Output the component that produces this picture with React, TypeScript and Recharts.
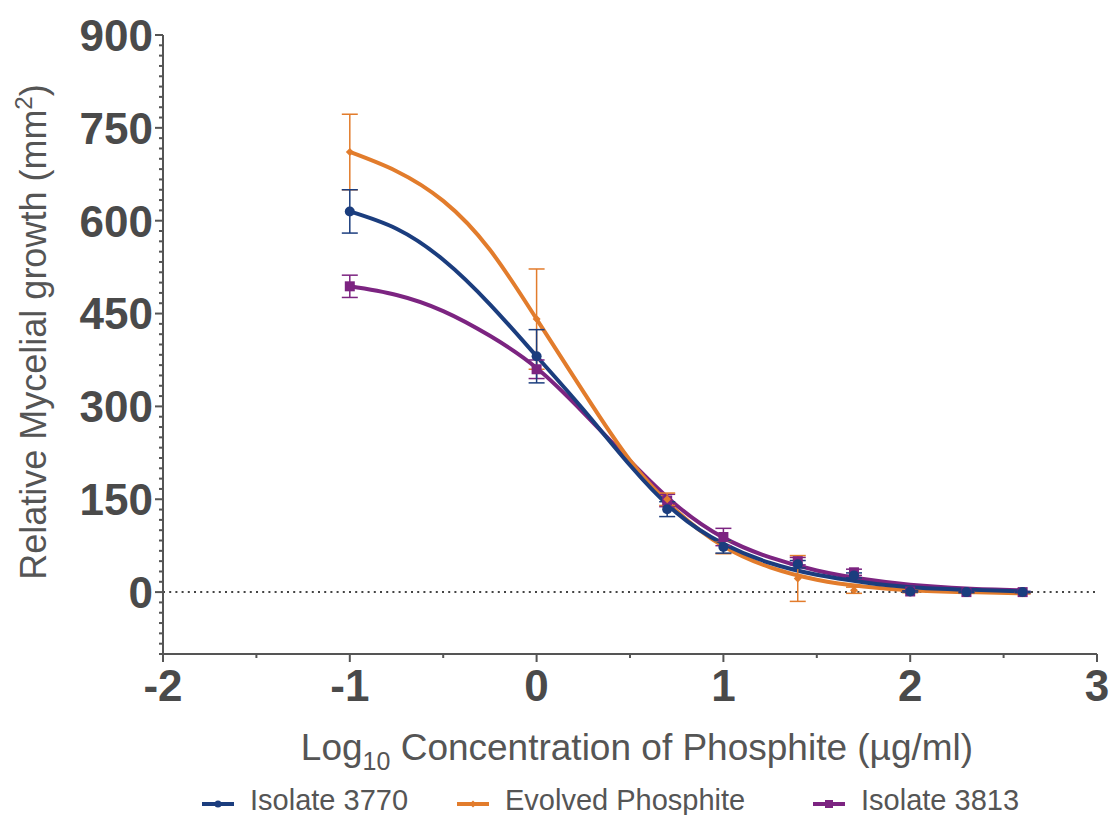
import React from 'react';
import {ComposedChart, Line, Scatter, ErrorBar, XAxis, YAxis, ReferenceLine} from 'recharts';

// measured points (log10 µg/ml)
const concLog = [-1, 0, 0.699, 1, 1.398, 1.699, 2, 2.301, 2.602];
const isolate3770Mean = [615, 381, 134, 73, 45, 27, 1, 0, 0];
const isolate3770Err = [35, 43, 12, 10, 6, 4, 1, 1, 1];
const evolvedMean = [711, 441, 150, 72, 22, 3, 0, -1, -2];
const evolvedErr = [61, 81, 10, 10, 37, 5, 1, 1, 1];
const isolate3813Mean = [494, 360, 148, 89, 50, 32, 1, 0, 0];
const isolate3813Err = [18, 15, 10, 14, 6, 5, 1, 1, 1];

// fitted curves
const fitX = [-1, -0.75, -0.5, -0.25, 0, 0.25, 0.5, 0.75, 1, 1.25, 1.5, 1.75, 2, 2.3, 2.6];
const isolate3770Fit = [615, 587, 537, 465, 381, 295, 205, 128, 78, 47, 28, 16, 8, 4, 1];
const evolvedFit = [711, 680, 632, 553, 441, 324, 213, 131, 74, 40, 20, 9, 3, 0, -2];
const isolate3813Fit = [494, 480, 454, 414, 362, 290, 212, 140, 88, 56, 35, 21, 12, 6, 3];

// axes
const xTickLabels = [-2, -1, 0, 1, 2, 3];
const yTickLabels = [0, 150, 300, 450, 600, 750, 900];
const yMin = -100;
const yMinorStep = 50 / 3;

const BLUE = '#1b3d7e';
const ORANGE = '#e27c2c';
const PURPLE = '#7c2481';
const AXIS = '#555';
const FONT = '"Liberation Sans", Arial, sans-serif';

const points = (mean: number[], err: number[]) => concLog.map((x, i) => ({x, y: mean[i], err: err[i]}));
const curve = (ys: number[]) => fitX.map((x, i) => ({x, y: ys[i]}));

const xTicks = [...xTickLabels, ...xTickLabels.slice(0, -1).map((v) => v + 0.5)].sort((a, b) => a - b);
const yTicks: number[] = [];
for (let v = yMin; v <= 900.001; v += yMinorStep) yTicks.push(v);

const isMajorY = (v: number) => yTickLabels.some((t) => Math.abs(t - v) < 0.01);

const YTick = (props: any) => {
  const {x, y, payload} = props;
  const major = isMajorY(payload.value);
  return (
    <g>
      <line x1={x} x2={x - (major ? 8 : 4)} y1={y} y2={y} stroke={AXIS} strokeWidth={2} />
      {major && (
        <text x={x - 10} y={y} dy='0.36em' textAnchor='end' fill='#4a4a4a' fontSize={44} fontWeight='bold' fontFamily={FONT}>
          {Math.round(payload.value)}
        </text>
      )}
    </g>
  );
};

const XTick = (props: any) => {
  const {x, y, payload} = props;
  const major = xTickLabels.includes(payload.value);
  return (
    <g>
      <line x1={x} x2={x} y1={y} y2={y + (major ? 8 : 4)} stroke={AXIS} strokeWidth={2} />
      {major && (
        <text x={x} y={y + 47} textAnchor='middle' fill='#4a4a4a' fontSize={44} fontWeight='bold' fontFamily={FONT}>
          {payload.value}
        </text>
      )}
    </g>
  );
};

const circleShape = (color: string) => (p: any) => <circle cx={p.cx} cy={p.cy} r={5} fill={color} />;
const squareShape = (color: string) => (p: any) => <rect x={p.cx - 5} y={p.cy - 5} width={10} height={10} fill={color} />;
const diamondShape = (color: string) => (p: any) => (
  <path d={`M${p.cx},${p.cy - 4}L${p.cx + 4},${p.cy}L${p.cx},${p.cy + 4}L${p.cx - 4},${p.cy}Z`} fill={color} />
);

const legendItems = [
  {name: 'Isolate 3770', color: BLUE, marker: 'circle', left: 202},
  {name: 'Evolved Phosphite', color: ORANGE, marker: 'diamond', left: 457},
  {name: 'Isolate 3813', color: PURPLE, marker: 'square', left: 813},
];

const LegendIcon = ({color, marker, x, y}: {color: string; marker: string; x: number; y: number}) => (
  <g>
    <line x1={x} x2={x + 32} y1={y} y2={y} stroke={color} strokeWidth={4} />
    {marker === 'circle' && <circle cx={x + 16} cy={y} r={3.5} fill={color} />}
    {marker === 'square' && <rect x={x + 12} y={y - 4} width={8} height={8} fill={color} />}
    {marker === 'diamond' && <path d={`M${x + 16},${y - 3.5}L${x + 19.5},${y}L${x + 16},${y + 3.5}L${x + 12.5},${y}Z`} fill={color} />}
  </g>
);

export default function App() {
  return (
    <div style={{position: 'fixed', left: 0, top: 0, width: 1113, height: 815, overflow: 'hidden', background: '#fff'}}>
      <ComposedChart width={1113} height={815} margin={{top: 35, right: 16, left: 83, bottom: 101}}>
        <XAxis
          dataKey='x'
          type='number'
          domain={[-2, 3]}
          ticks={xTicks}
          interval={0}
          tick={<XTick />}
          tickLine={false}
          tickSize={0}
          tickMargin={0}
          height={60}
          axisLine={{stroke: AXIS, strokeWidth: 2}}
          allowDataOverflow
        />
        <YAxis
          dataKey='y'
          type='number'
          domain={[yMin, 900]}
          ticks={yTicks}
          interval={0}
          tick={<YTick />}
          tickLine={false}
          tickSize={0}
          tickMargin={0}
          width={80}
          axisLine={{stroke: AXIS, strokeWidth: 2}}
          allowDataOverflow
        />
        <ReferenceLine y={0} stroke='#444' strokeWidth={2} strokeDasharray='2 4.2' />

        <Line data={curve(isolate3813Fit)} dataKey='y' type='natural' stroke={PURPLE} strokeWidth={4} dot={false} isAnimationActive={false} />
        <Line data={curve(evolvedFit)} dataKey='y' type='natural' stroke={ORANGE} strokeWidth={4} dot={false} isAnimationActive={false} />
        <Line data={curve(isolate3770Fit)} dataKey='y' type='natural' stroke={BLUE} strokeWidth={4} dot={false} isAnimationActive={false} />

        <Scatter data={points(isolate3813Mean, isolate3813Err)} shape={squareShape(PURPLE)} isAnimationActive={false}>
          <ErrorBar dataKey='err' direction='y' width={8} stroke={PURPLE} strokeWidth={1.5} />
        </Scatter>
        <Scatter data={points(evolvedMean, evolvedErr)} shape={diamondShape(ORANGE)} isAnimationActive={false}>
          <ErrorBar dataKey='err' direction='y' width={8} stroke={ORANGE} strokeWidth={1.5} />
        </Scatter>
        <Scatter data={points(isolate3770Mean, isolate3770Err)} shape={circleShape(BLUE)} isAnimationActive={false}>
          <ErrorBar dataKey='err' direction='y' width={8} stroke={BLUE} strokeWidth={1.5} />
        </Scatter>
      </ComposedChart>

      {/* axis titles and legend */}
      <svg width={1113} height={815} style={{position: 'absolute', left: 0, top: 0, pointerEvents: 'none'}}>
        <text x={0} y={0} transform='translate(46,332) rotate(-90)' textAnchor='middle' fill='#555' fontSize={36} fontFamily={FONT}>
          Relative Mycelial growth (mm<tspan dy={-14} fontSize={24}>2</tspan>
          <tspan dy={14}>)</tspan>
        </text>
        <text x={637} y={760} textAnchor='middle' fill='#555' fontSize={37} fontFamily={FONT}>
          Log<tspan dy={10} fontSize={25}>10</tspan>
          <tspan dy={-10}> Concentration of Phosphite (µg/ml)</tspan>
        </text>
        {legendItems.map((item) => (
          <g key={item.name}>
            <LegendIcon color={item.color} marker={item.marker} x={item.left} y={804} />
            <text x={item.left + 48} y={810} fill='#555' fontSize={29} fontFamily={FONT}>
              {item.name}
            </text>
          </g>
        ))}
      </svg>
    </div>
  );
}
